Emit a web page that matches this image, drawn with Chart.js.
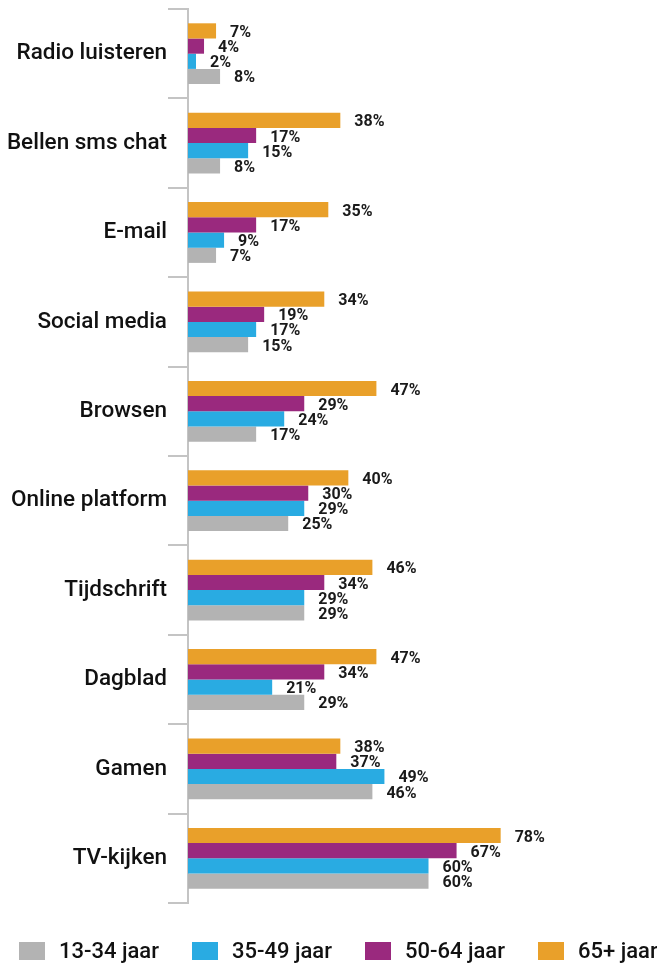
<!DOCTYPE html>
<html>
<head>
<meta charset="utf-8">
<script src="https://cdn.jsdelivr.net/npm/chart.js@4"></script>
<style>
  html, body { margin: 0; padding: 0; background: #fff; }
  #wrap { position: relative; width: 657px; height: 963px; }
  #legend {
    position: absolute;
    left: 19px;
    top: 938px;
    display: flex;
    gap: 33px;
    font-family: Roboto, sans-serif;
    font-weight: 500;
    font-size: 22px;
    color: #111;
    white-space: nowrap;
  }
  .item { display: flex; align-items: center; }
  .box { width: 26px; height: 18px; margin-right: 14px; }
</style>
</head>
<body>
<div id="wrap">
  <canvas id="myChart"></canvas>
  <div id="legend"></div>
</div>
<script>
const categories = [
  "Radio luisteren",
  "Bellen sms chat",
  "E-mail",
  "Social media",
  "Browsen",
  "Online platform",
  "Tijdschrift",
  "Dagblad",
  "Gamen",
  "TV-kijken",
];

const age65plus = [7, 38, 35, 34, 47, 40, 46, 47, 38, 78];
const age50to64 = [4, 17, 17, 19, 29, 30, 34, 34, 37, 67];
const age35to49 = [2, 15, 9, 17, 24, 29, 29, 21, 49, 60];
const age13to34 = [8, 8, 7, 15, 17, 25, 29, 29, 46, 60];

/* percentage text next to every bar */
const valueLabels = {
  id: "valueLabels",
  afterDatasetsDraw(chart) {
    const c = chart.ctx;
    c.save();
    c.font = "bold 16px Roboto, sans-serif";
    c.fillStyle = "#1a1a1a";
    c.textAlign = "left";
    c.textBaseline = "middle";
    chart.data.datasets.forEach((ds, i) => {
      chart.getDatasetMeta(i).data.forEach((bar, j) => {
        c.fillText(ds.data[j] + "%", bar.x + 14, bar.y + 2);
      });
    });
    c.restore();
  },
};

const ctx = document.getElementById("myChart");

const chart = new Chart(ctx, {
  type: "bar",
  data: {
    labels: categories,
    datasets: [
      { label: "65+ jaar", data: age65plus, backgroundColor: "#e9a02a" },
      { label: "50-64 jaar", data: age50to64, backgroundColor: "#9a297e" },
      { label: "35-49 jaar", data: age35to49, backgroundColor: "#29abe2" },
      { label: "13-34 jaar", data: age13to34, backgroundColor: "#b3b3b3" },
    ],
  },
  options: {
    indexAxis: "y",
    responsive: true,
    maintainAspectRatio: false,
    animation: false,
    layout: {
      padding: { top: 9, right: 0, bottom: 60, left: 0 },
    },
    datasets: {
      bar: {
        categoryPercentage: 0.68,
        barPercentage: 1,
      },
    },
    scales: {
      x: {
        display: false,
        min: 0,
        max: 117,
      },
      y: {
        afterFit(scale) {
          scale.width = 188;
          scale.paddingTop = 0;
          scale.paddingBottom = 0;
        },
        border: { display: true, color: "#c4c4c4", width: 2 },
        grid: {
          drawOnChartArea: false,
          drawTicks: true,
          tickLength: 20,
          color: "#c4c4c4",
          lineWidth: 2,
        },
        ticks: {
          padding: 1,
          color: "#111",
          font: { family: "Roboto", size: 22.5, weight: 500 },
        },
      },
    },
    plugins: {
      tooltip: { enabled: false },
      legend: { display: false },
    },
  },
  plugins: [valueLabels],
});

/* legend below the chart, youngest group first */
const legend = document.getElementById("legend");
chart.data.datasets.slice().reverse().forEach((ds) => {
  const item = document.createElement("div");
  item.className = "item";
  const box = document.createElement("span");
  box.className = "box";
  box.style.background = ds.backgroundColor;
  item.appendChild(box);
  item.appendChild(document.createTextNode(ds.label));
  legend.appendChild(item);
});
</script>
</body>
</html>
